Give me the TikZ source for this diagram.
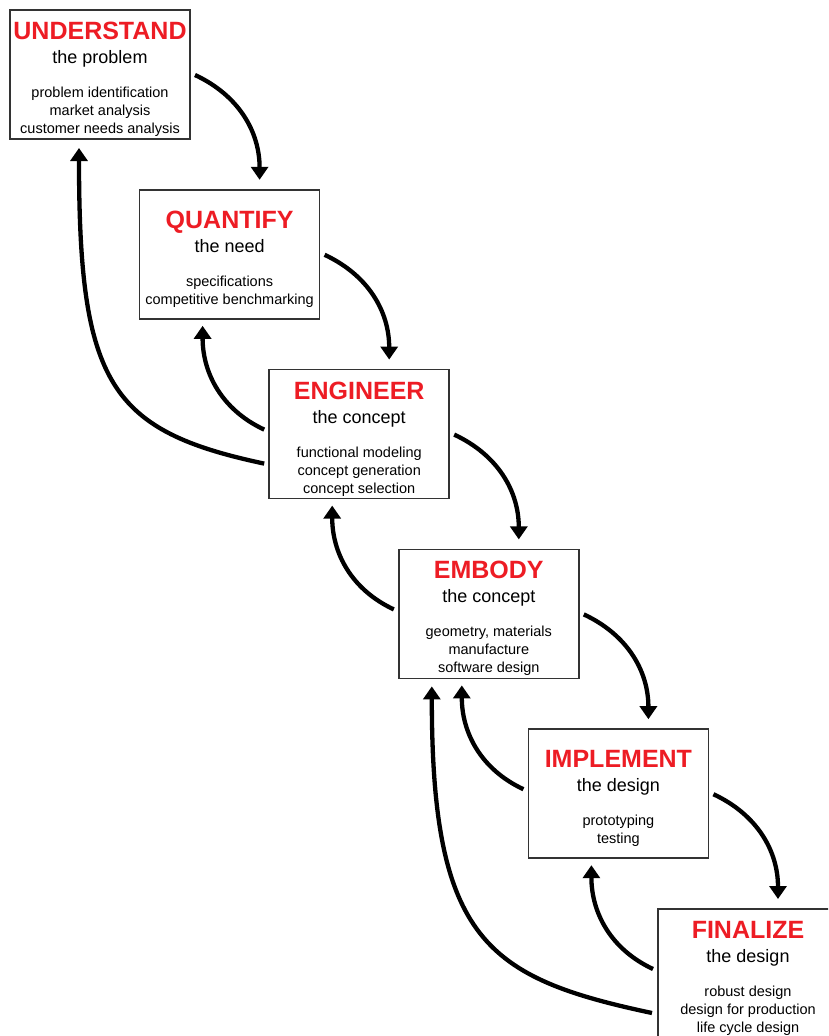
\documentclass[tikz,border=0pt]{standalone}
\usepackage{fontspec}
\setmainfont{Liberation Sans}
\usetikzlibrary{positioning, arrows.meta}

\definecolor{stagered}{RGB}{237,28,36}
\newcommand{\stagetitle}[1]{\rule{0pt}{27pt}{\fontsize{25}{18}\selectfont\bfseries\color{stagered}#1}}
\newcommand{\stagesub}[1]{{\fontsize{18}{18}\selectfont #1}}

\begin{document}
\begin{tikzpicture}[x=1pt,y=1pt,>={Triangle[width=17pt,length=13pt]},
    stage/.style={rectangle,draw=black!80,line width=1.5pt,minimum width=180pt,minimum height=129pt,
      inner sep=2pt,outer sep=0pt,align=center,font=\fontsize{14.5}{18}\selectfont},
    fwd/.style={out=-25,in=90},
    back/.style={out=155,in=-90},
    longback/.style={out=168,in=-90,out looseness=1.1,in looseness=1.65}]

\clip (0,0) rectangle (828,-1036);

\node[stage] (u) at (100,-74.5) {\stagetitle{UNDERSTAND}\\[6pt] \stagesub{the problem}\\[16pt]
  problem identification\\ market analysis\\ customer needs analysis};
\node[stage] (q) [below right=50.8pt and -50.4pt of u] {\stagetitle{QUANTIFY}\\[6pt] \stagesub{the need}\\[16pt]
  specifications\\ competitive benchmarking};
\node[stage] (e) [below right=50.8pt and -50.4pt of q] {\stagetitle{ENGINEER}\\[6pt] \stagesub{the concept}\\[16pt]
  functional modeling\\ concept generation\\ concept selection};
\node[stage] (m) [below right=50.8pt and -50.4pt of e] {\stagetitle{EMBODY}\\[6pt] \stagesub{the concept}\\[16pt]
  geometry, materials\\ manufacture\\ software design};
\node[stage] (i) [below right=50.8pt and -50.4pt of m] {\stagetitle{IMPLEMENT}\\[6pt] \stagesub{the design}\\[16pt]
  prototyping\\ testing};
\node[stage] (f) [below right=50.8pt and -50.4pt of i] {\stagetitle{FINALIZE}\\[6pt] \stagesub{the design}\\[16pt]
  robust design\\ design for production\\ life cycle design};

\path[->,line width=4.3pt]
([shift={(5,-65)}]u.north east) edge[fwd] ([shift={(30,10)}]q.north)
([shift={(5,-65)}]q.north east) edge[fwd] ([shift={(30,10)}]e.north)
([shift={(5,-65)}]e.north east) edge[fwd] ([shift={(30,10)}]m.north)
([shift={(5,-65)}]m.north east) edge[fwd] ([shift={(30,10)}]i.north)
([shift={(5,-65)}]i.north east) edge[fwd] ([shift={(30,10)}]f.north)
([shift={(-5,-60)}]e.north west) edge[back] ([shift={(-27,-7)}]q.south)
([shift={(-5,-60)}]m.north west) edge[back] ([shift={(-27,-7)}]e.south)
([shift={(-5,-60)}]i.north west) edge[back] ([shift={(-27,-7)}]m.south)
([shift={(-5,-60)}]f.north west) edge[back] ([shift={(-27,-7)}]i.south)
([shift={(-5,-94)}]e.north west) edge[longback] ([shift={(-21,-9)}]u.south)
([shift={(-6,-104)}]f.north west) edge[longback] ([shift={(-57,-8)}]m.south)
;
\end{tikzpicture}
\end{document}
